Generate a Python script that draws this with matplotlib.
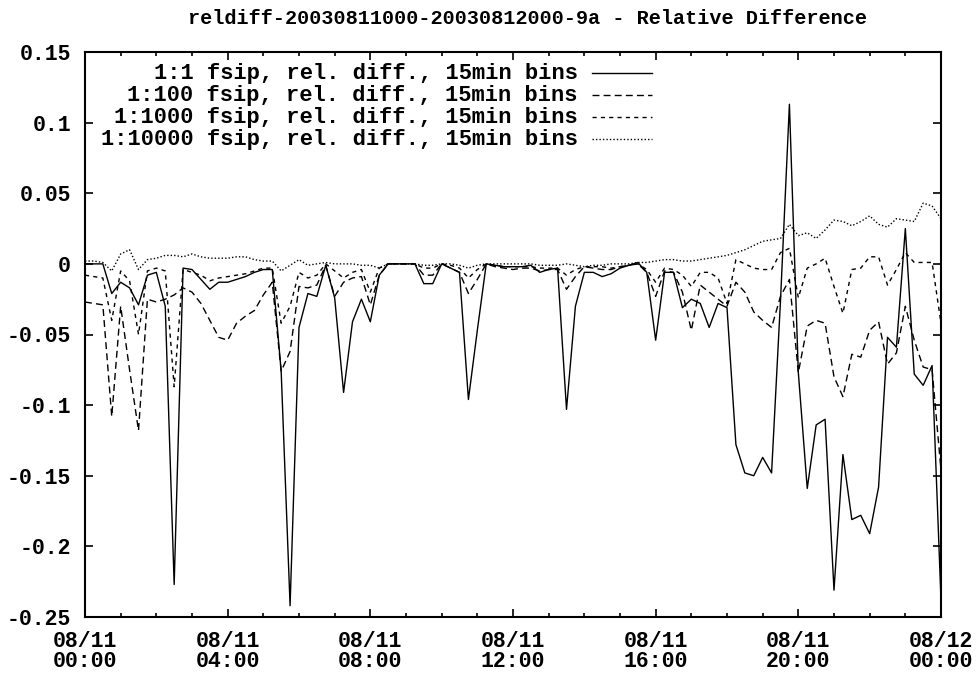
import numpy as np
import matplotlib
matplotlib.use("Agg")
import matplotlib.pyplot as plt
from matplotlib.lines import Line2D

hours = np.arange(97) * 0.25
tick_hours = [0, 4, 8, 12, 16, 20, 24]
tick_labels = ["08/11\n00:00", "08/11\n04:00", "08/11\n08:00", "08/11\n12:00",
               "08/11\n16:00", "08/11\n20:00", "08/12\n00:00"]

s1 = [0, 0, 0, -0.021, -0.013, -0.017, -0.029, -0.008, -0.006, -0.030,
      -0.227, -0.003, -0.004, -0.011, -0.018, -0.013, -0.013, -0.011, -0.009, -0.006,
      -0.004, -0.004, -0.076, -0.242, -0.045, -0.021, -0.023, -0.001, -0.024, -0.091,
      -0.041, -0.025, -0.041, -0.008, 0, 0, 0, 0, -0.014, -0.014,
      0, -0.003, -0.006, -0.096, -0.047, 0, -0.001, -0.002, -0.002, -0.002,
      -0.001, -0.006, -0.004, -0.003, -0.103, -0.030, -0.006, -0.006, -0.009, -0.007,
      -0.003, -0.001, 0.001, -0.006, -0.054, -0.006, -0.006, -0.031, -0.025, -0.028,
      -0.045, -0.028, -0.031, -0.128, -0.148, -0.150, -0.137, -0.148, -0.026, 0.113,
      -0.077, -0.159, -0.114, -0.110, -0.231, -0.135, -0.181, -0.178, -0.191, -0.158,
      -0.052, -0.059, 0.025, -0.078, -0.086, -0.072, -0.238]
s100 = [-0.027, -0.028, -0.029, -0.108, -0.030, -0.075, -0.118, -0.025, -0.027, -0.025,
        -0.022, -0.017, -0.020, -0.028, -0.040, -0.052, -0.054, -0.042, -0.037, -0.033,
        -0.022, -0.013, -0.076, -0.062, -0.016, -0.017, -0.015, -0.001, -0.023, -0.013,
        -0.010, -0.009, -0.029, -0.008, 0, 0, 0, 0, -0.008, -0.008,
        0, -0.003, -0.006, -0.021, -0.011, 0, -0.002, -0.003, -0.004, -0.003,
        -0.003, -0.005, -0.004, -0.004, -0.018, -0.009, -0.002, -0.003, -0.004, -0.004,
        -0.002, -0.001, 0, -0.006, -0.023, -0.005, -0.006, -0.020, -0.047, -0.015,
        -0.020, -0.025, -0.030, -0.013, -0.020, -0.034, -0.040, -0.045, -0.023, -0.011,
        -0.077, -0.044, -0.040, -0.042, -0.080, -0.094, -0.064, -0.066, -0.047, -0.041,
        -0.071, -0.063, -0.030, -0.054, -0.073, -0.075, -0.146]
s1000 = [-0.008, -0.009, -0.010, -0.040, -0.005, -0.012, -0.050, -0.005, -0.003, -0.005,
         -0.087, -0.004, -0.006, -0.008, -0.012, -0.010, -0.009, -0.008, -0.007, -0.005,
         -0.003, -0.003, -0.042, -0.030, -0.006, -0.010, -0.008, 0, -0.005, -0.010,
         -0.006, -0.004, -0.020, -0.003, 0, 0, 0, 0, -0.003, -0.003,
         0, -0.001, -0.003, -0.010, -0.004, 0, -0.001, -0.002, -0.002, -0.002,
         -0.002, -0.003, -0.003, -0.003, -0.008, -0.004, -0.002, -0.002, -0.002, -0.003,
         -0.002, -0.001, 0, -0.004, -0.013, -0.003, -0.004, -0.008, -0.016, -0.006,
         -0.006, -0.010, -0.028, 0.003, 0.000, -0.003, -0.004, -0.004, 0.008, 0.011,
         -0.024, -0.003, 0, 0.004, -0.016, -0.035, -0.004, -0.003, 0.005, 0.005,
         -0.015, -0.004, 0.008, 0.001, 0.001, 0.001, -0.042]
s10000 = [0.002, 0.002, 0.001, -0.005, 0.007, 0.010, -0.004, 0.003, 0.004, 0.006,
          0.006, 0.005, 0.007, 0.005, 0.004, 0.004, 0.004, 0.005, 0.005, 0.003,
          0.002, 0.002, -0.005, -0.001, 0.003, -0.001, 0, 0.001,
          0, 0, 0, -0.001, -0.001, -0.003, 0, 0, 0, 0, -0.001, -0.001, 0, 0,
          -0.001, -0.003, -0.001, 0, 0, 0, 0, 0, 0, -0.001, -0.001, -0.001, 0,
          -0.001, -0.002, -0.001, -0.001, 0, 0, 0,
          0.001, 0.001, 0.002, 0.003, 0.003, 0.002, 0.002, 0.003, 0.004, 0.005,
          0.006, 0.008, 0.010, 0.013, 0.016, 0.017, 0.018, 0.028, 0.020, 0.022,
          0.018, 0.024, 0.031, 0.030, 0.027, 0.030, 0.034, 0.028, 0.026, 0.032,
          0.031, 0.030, 0.043, 0.041, 0.032]

labels = ["1:1 fsip, rel. diff., 15min bins",
          "1:100 fsip, rel. diff., 15min bins",
          "1:1000 fsip, rel. diff., 15min bins",
          "1:10000 fsip, rel. diff., 15min bins"]
styles = ["-", (0, (5, 3)), (0, (3, 3)), (0, (1, 1.5))]

plt.rcParams["font.family"] = "Liberation Mono"
plt.rcParams["font.weight"] = "bold"

W, H = 979, 675
fig = plt.figure(figsize=(W/100, H/100), dpi=100)
ax = fig.add_axes([85/W, 1-617/H, (941-85)/W, (617-52)/H])
for s, ls in zip([s1, s100, s1000, s10000], styles):
    ax.plot(hours, s, color="black", lw=1.0, linestyle=ls)

for i, (lab, ls) in enumerate(zip(labels, styles)):
    yp = 73 + 22 * i
    fig.text(578/W, 1 - yp/H, lab, ha="right", va="center", fontsize=15.8)
    fig.add_artist(Line2D([592/W, 652/W], [1 - yp/H, 1 - yp/H], color="black",
                          lw=1.0, linestyle=ls))

ax.set_xlim(0, 24)
ax.set_ylim(-0.25, 0.15)
ax.set_xticks(tick_hours)
ax.set_xticklabels(tick_labels, fontsize=15.5, linespacing=0.95)
ax.set_xticks(np.arange(0, 25, 1), minor=True)
yt = [0.15, 0.1, 0.05, 0, -0.05, -0.1, -0.15, -0.2, -0.25]
ax.set_yticks(yt)
ax.set_yticklabels([f"{v:g}" for v in yt], fontsize=15.5)
ax.tick_params(axis="x", pad=10)
ax.tick_params(axis="y", pad=10)
ax.tick_params(direction="in", top=True, right=True, length=6, width=1.2, which="major")
ax.tick_params(direction="in", top=True, right=True, length=3, width=1.2, which="minor")
for sp in ax.spines.values():
    sp.set_linewidth(1.5)
fig.text(528/W, 1 - 19/H, "reldiff-20030811000-20030812000-9a - Relative Difference",
         ha="center", va="center", fontsize=14.5)
fig.savefig("out.png", dpi=100)
